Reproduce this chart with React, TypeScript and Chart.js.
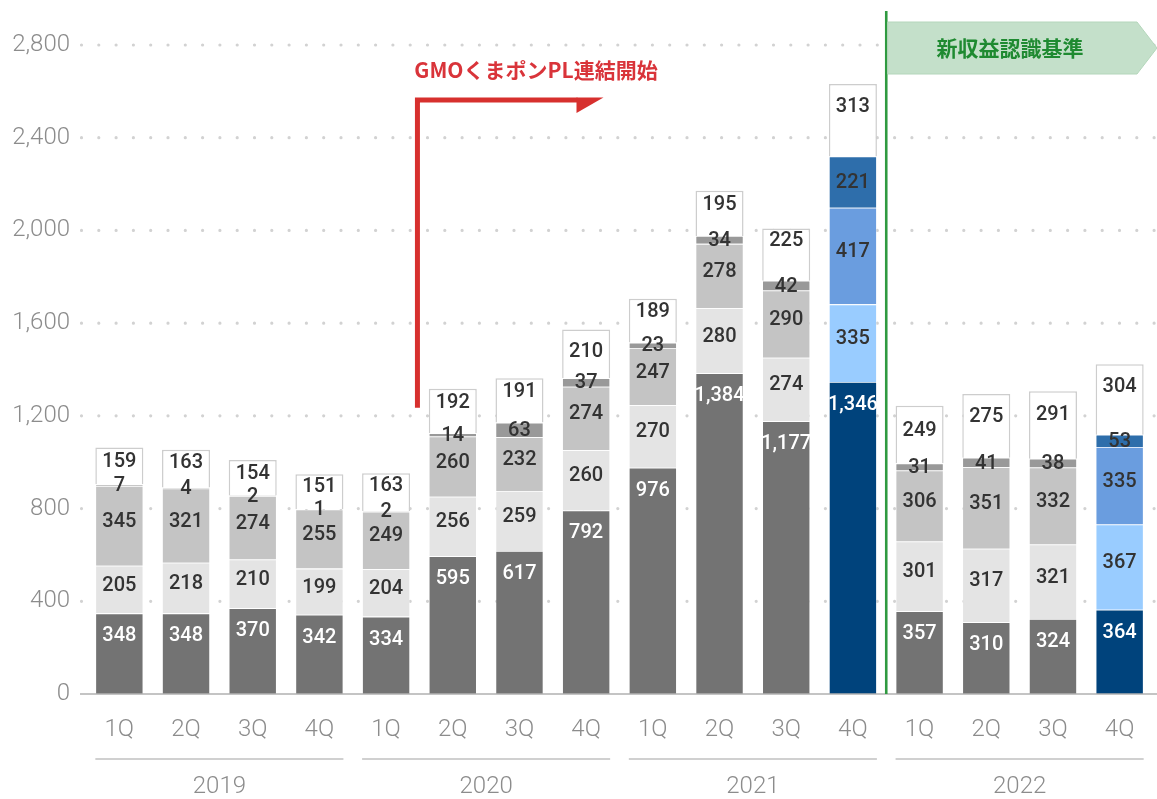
import React, { useEffect, useRef } from 'react';
import { Chart, registerables } from 'chart.js';

Chart.register(...registerables);

const quarterLabels = ['1Q', '2Q', '3Q', '4Q', '1Q', '2Q', '3Q', '4Q', '1Q', '2Q', '3Q', '4Q', '1Q', '2Q', '3Q', '4Q'];
const yearLabels = ['2019', '2020', '2021', '2022'];
const seriesA = [348, 348, 370, 342, 334, 595, 617, 792, 976, 1384, 1177, 1346, 357, 310, 324, 364];
const seriesB = [205, 218, 210, 199, 204, 256, 259, 260, 270, 280, 274, 335, 301, 317, 321, 367];
const seriesC = [345, 321, 274, 255, 249, 260, 232, 274, 247, 278, 290, 417, 306, 351, 332, 335];
const seriesD = [7, 4, 2, 1, 2, 14, 63, 37, 23, 34, 42, 221, 31, 41, 38, 53];
const seriesE = [159, 163, 154, 151, 163, 192, 191, 210, 189, 195, 225, 313, 249, 275, 291, 304];
const yTickValues = [0, 400, 800, 1200, 1600, 2000, 2400, 2800];
const blueIndices = [11, 15];
const redNote = 'GMOくまポンPL連結開始';
const greenNote = '新収益認識基準';

// styling constants
const grayColors = ['#737373', '#e4e4e4', '#c4c4c4', '#999999', '#ffffff'];
const blueColors = ['#00437c', '#99ccff', '#6a9ddf', '#2e6eab', '#ffffff'];
const labelColors = ['#ffffff', '#333333', '#333333', '#333333', '#333333'];
// label placement (px below segment top) for the bottom and top segments
const bottomLabelDrop = 23;
const topLabelDrop = [15, 13, 14, 13, 13, 14, 14, 23, 13, 14, 12, 23, 25, 23, 24, 23];
const middleLabelShift = -5;

const BAR_PCT = 0.72;

const colorsFor = (si: number) =>
  quarterLabels.map((_, i) => (blueIndices.includes(i) ? blueColors[si] : grayColors[si]));

const fmt = (v: number) => v.toLocaleString('en-US');

const gridPlugin = {
  id: 'dotGrid',
  beforeDatasetsDraw(chart: any) {
    const { ctx } = chart;
    const y = chart.scales.y;
    ctx.save();
    ctx.strokeStyle = '#d2d2d2';
    ctx.lineWidth = 3.2;
    ctx.lineCap = 'round';
    ctx.setLineDash([0, 17.3]);
    yTickValues.forEach((v) => {
      if (v === 0) return;
      const py = y.getPixelForValue(v);
      ctx.beginPath();
      ctx.moveTo(81.5, py);
      ctx.lineTo(1157, py);
      ctx.stroke();
    });
    ctx.restore();
  },
  afterDatasetsDraw(chart: any) {
    const { ctx } = chart;
    const y = chart.scales.y;
    const py = y.getPixelForValue(0);
    ctx.save();
    ctx.strokeStyle = '#b0b0b0';
    ctx.lineWidth = 1.5;
    ctx.beginPath();
    ctx.moveTo(80, py);
    ctx.lineTo(1157, py);
    ctx.stroke();
    ctx.restore();
  },
};

const labelPlugin = {
  id: 'segLabels',
  afterDatasetsDraw(chart: any) {
    const { ctx } = chart;
    ctx.save();
    ctx.font = '500 20px Roboto, "DejaVu Sans", sans-serif';
    ctx.textAlign = 'center';
    ctx.textBaseline = 'middle';
    chart.data.datasets.forEach((ds: any, si: number) => {
      const meta = chart.getDatasetMeta(si);
      meta.data.forEach((el: any, i: number) => {
        const v = ds.data[i];
        const top = Math.min(el.y, el.base);
        let cy = (el.y + el.base) / 2 + 1;
        if (si === 0) cy = top + bottomLabelDrop;
        else if (si === 4) cy = top + topLabelDrop[i];
        else if (si === 1 || si === 2) cy += middleLabelShift;
        ctx.fillStyle = labelColors[si];
        ctx.fillText(fmt(v), el.x, cy);
      });
    });
    ctx.restore();
  },
};

const groupPlugin = {
  id: 'yearGroups',
  afterDraw(chart: any) {
    const { ctx } = chart;
    const x = chart.scales.x;
    const step = (x.right - x.left) / quarterLabels.length;
    const half = (step * BAR_PCT) / 2;
    ctx.save();
    yearLabels.forEach((yr, g) => {
      const x1 = x.getPixelForValue(g * 4) - half;
      const x2 = x.getPixelForValue(g * 4 + 3) + half;
      ctx.strokeStyle = '#d0d0d0';
      ctx.lineWidth = 2;
      ctx.beginPath();
      ctx.moveTo(x1, 759);
      ctx.lineTo(x2, 759);
      ctx.stroke();
      ctx.fillStyle = '#8c8c8c';
      ctx.font = '300 24px Roboto, "DejaVu Sans", sans-serif';
      ctx.textAlign = 'center';
      ctx.textBaseline = 'middle';
      ctx.fillText(yr, (x1 + x2) / 2, 787);
    });
    ctx.restore();
  },
};

const notePlugin = {
  id: 'notes',
  afterDraw(chart: any) {
    const { ctx } = chart;
    const x = chart.scales.x;
    const y = chart.scales.y;
    ctx.save();
    // red arrow
    const ax = x.getPixelForValue(4.5) - 2;
    const yBottom = y.getPixelForValue(1235);
    const yTop = y.getPixelForValue(2563);
    const xEnd = x.getPixelForValue(6.87);
    ctx.strokeStyle = '#d7302e';
    ctx.fillStyle = '#d7302e';
    ctx.lineWidth = 5;
    ctx.lineJoin = 'miter';
    ctx.beginPath();
    ctx.moveTo(ax, yBottom);
    ctx.lineTo(ax, yTop);
    ctx.lineTo(xEnd, yTop);
    ctx.stroke();
    ctx.beginPath();
    ctx.moveTo(xEnd - 1, yTop - 2.5);
    ctx.lineTo(xEnd + 26, yTop - 2.5);
    ctx.lineTo(xEnd - 1, yTop + 13);
    ctx.closePath();
    ctx.fill();
    ctx.font = 'bold 21px "Noto Sans CJK JP", "Noto Sans", sans-serif';
    ctx.textAlign = 'center';
    ctx.textBaseline = 'middle';
    ctx.fillStyle = '#d9343a';
    ctx.fillText(redNote, 536, 70);

    // green divider
    const gx = x.getPixelForValue(11.5);
    ctx.strokeStyle = '#2f9a40';
    ctx.lineWidth = 2.6;
    ctx.beginPath();
    ctx.moveTo(gx, 11);
    ctx.lineTo(gx, y.getPixelForValue(0));
    ctx.stroke();

    // banner
    ctx.fillStyle = '#c4e0ca';
    ctx.strokeStyle = '#b4d6bb';
    ctx.lineWidth = 1;
    ctx.beginPath();
    ctx.moveTo(gx + 1.5, 22);
    ctx.lineTo(1137, 22);
    ctx.lineTo(1157, 48);
    ctx.lineTo(1137, 74);
    ctx.lineTo(gx + 1.5, 74);
    ctx.closePath();
    ctx.fill();
    ctx.stroke();
    ctx.fillStyle = '#1f8a31';
    ctx.font = 'bold 21px "Noto Sans CJK JP", "Noto Sans", sans-serif';
    ctx.fillText(greenNote, 1010, 48);
    ctx.restore();
  },
};

export default function App() {
  const canvasRef = useRef<HTMLCanvasElement | null>(null);

  useEffect(() => {
    if (!canvasRef.current) return;
    const series = [seriesA, seriesB, seriesC, seriesD, seriesE];
    const chart = new Chart(canvasRef.current, {
      type: 'bar',
      data: {
        labels: quarterLabels,
        datasets: series.map((data, si) => ({
          label: `s${si}`,
          data,
          backgroundColor: colorsFor(si),
          borderColor: si === 4 ? '#cdcdcd' : 'rgba(255,255,255,0.35)',
          borderWidth: si === 4 ? 1.5 : 0.8,
          barPercentage: BAR_PCT,
          categoryPercentage: 1,
        })),
      },
      options: {
        responsive: false,
        animation: false,
        layout: { padding: { top: 45, right: 4, left: 0, bottom: 0 } },
        plugins: {
          legend: { display: false },
          tooltip: { enabled: false },
        },
        scales: {
          x: {
            stacked: true,
            grid: { display: false, drawTicks: false },
            border: { display: false },
            ticks: {
              color: '#8c8c8c',
              font: { family: 'Roboto', size: 24, weight: '300' },
              padding: 22,
              maxRotation: 0,
              autoSkip: false,
            },
            afterFit: (s: any) => {
              s.height = 105;
            },
          },
          y: {
            stacked: true,
            min: 0,
            max: 2800,
            afterBuildTicks: (s: any) => {
              s.ticks = yTickValues.map((v) => ({ value: v }));
            },
            ticks: {
              color: '#8c8c8c',
              font: { family: 'Roboto', size: 24, weight: '300' },
              padding: 16,
              callback: (v: any) => fmt(Number(v)),
            },
            grid: { display: false, drawTicks: false },
            border: { display: false },
            afterFit: (s: any) => {
              s.width = 86;
            },
          },
        },
      },
      plugins: [gridPlugin, labelPlugin, groupPlugin, notePlugin],
    });
    return () => chart.destroy();
  }, []);

  return (
    <div style={{ position: 'absolute', left: 0, top: 0, width: 1157, height: 799, background: '#ffffff' }}>
      <canvas ref={canvasRef} width={1157} height={799} />
    </div>
  );
}
